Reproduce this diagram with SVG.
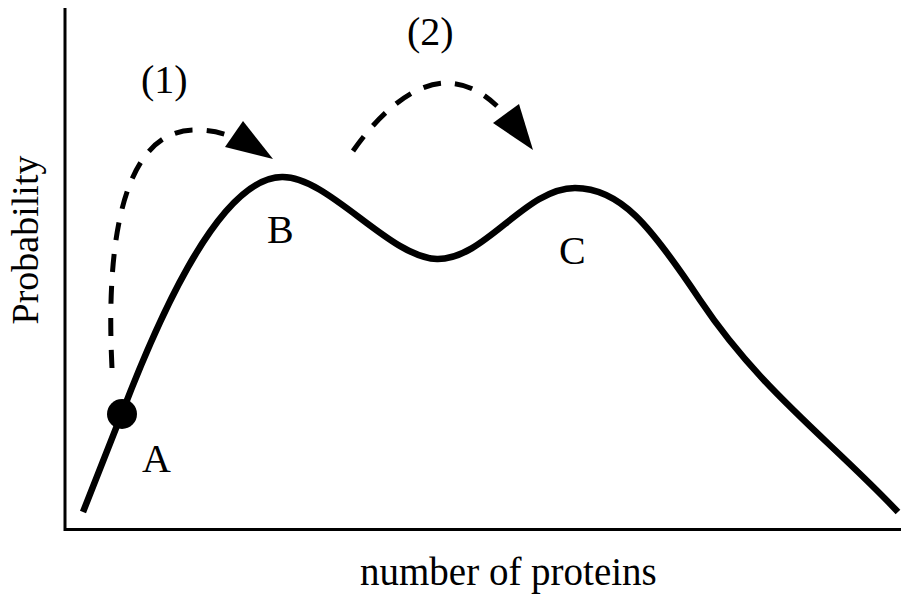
<svg xmlns="http://www.w3.org/2000/svg" width="901" height="595" viewBox="0 0 901 595">
<style>
.t{font-size:40px;fill:#000}
.axis{fill:none;stroke:#000;stroke-width:3}
.curve{fill:none;stroke:#000;stroke-width:6.5;stroke-linejoin:round}
.dash{fill:none;stroke:#000;stroke-width:5;stroke-dasharray:18 14}
.head{fill:#000}
</style>
<rect width="901" height="595" fill="#fff"/>
<g id="axes">
<path class="axis" d="M65,8 L65,529.5 L901,529.5"/>
</g>
<g id="curve">
<path class="curve" d="M83,512 L122,413 C150,340 215,178 282,177 C328,176 390,258 437,259 C485,260 525,188 575,188 C620,188 650,225 700,300 C760,390 830,440 898,512"/>
</g>
<g id="connectors">
<path class="dash" d="M112,368 C106,250 120,130 195,130 C215,130 230,135 245,142"/>
<polygon class="head" points="273,159 243,121 225,147"/>
<path class="dash" d="M353,151 C385,105 420,82 448,83 C470,84 485,95 497,106"/>
<polygon class="head" points="533,150 519,104 493,123"/>
</g>
<g font-family="Liberation Serif">
<g id="nodeA">
<circle cx="122" cy="414" r="15" fill="#000"/>
<text class="t" x="142" y="472">A</text>
</g>
<g id="nodeB"><text class="t" x="267" y="243">B</text></g>
<g id="nodeC"><text class="t" x="559" y="264">C</text></g>
<g id="labels">
<text class="t" x="141" y="93">(1)</text>
<text class="t" x="407" y="45">(2)</text>
<text class="t" x="38" y="240" text-anchor="middle" transform="rotate(-90 38 240)" style="font-size:38px">Probability</text>
<text class="t" x="360" y="585" style="font-size:39px">number of proteins</text>
</g>
</g>
</svg>
